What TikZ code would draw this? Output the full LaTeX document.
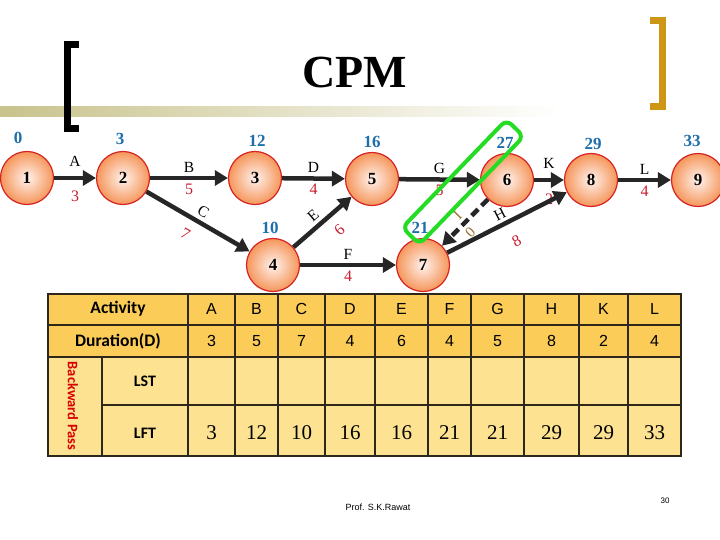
\documentclass[tikz,border=0pt]{standalone}
\usepackage{fontspec}
\setmainfont{Liberation Serif}
\newfontfamily\arialfont{Liberation Sans}
\newfontfamily\calibrifont{Carlito}
\usepackage{tikz}
\usetikzlibrary{positioning, shapes, arrows.meta}
\definecolor{NodeRed}{RGB}{215, 35, 35}
\definecolor{NodeOrange}{RGB}{245, 150, 90}
\definecolor{NodeCenter}{RGB}{255, 242, 238}
\definecolor{ArrowGray}{RGB}{38, 38, 38}
\definecolor{TimeBlue}{RGB}{30, 110, 170}
\definecolor{DurRed}{RGB}{200, 30, 45}
\definecolor{DummyBrown}{RGB}{150, 110, 40}
\definecolor{PathGreen}{RGB}{35, 220, 35}
\definecolor{BracketGold}{RGB}{205, 150, 20}
\definecolor{RuleKhaki}{RGB}{200, 195, 140}
\definecolor{HeadGold}{RGB}{251, 204, 88}
\definecolor{CellGold}{RGB}{253, 226, 145}
\definecolor{GridDark}{RGB}{45, 40, 25}

\begin{document}
\begin{tikzpicture}[
    x=1pt, y=-1pt,
    every node/.style={align=center},
    event/.style={circle, draw=NodeRed, line width=1.2pt, minimum size=53pt, inner sep=0pt,
      inner color=NodeCenter, outer color=NodeOrange, font=\bfseries\fontsize{17}{17}\selectfont},
    timelabel/.style={text=TimeBlue, inner sep=1pt, font=\bfseries\fontsize{17}{17}\selectfont},
    act/.style={draw=ArrowGray, line width=4.5pt, -{Triangle[length=13pt, width=15pt]}},
    dummy/.style={act, dash pattern=on 9pt off 5pt},
    actname/.style={font=\fontsize{15.5}{15.5}\selectfont},
    actdur/.style={text=DurRed, font=\fontsize{16}{16}\selectfont},
    dummylbl/.style={text=DummyBrown, font=\fontsize{15}{15}\selectfont},
    headcell/.style={font=\calibrifont\bfseries\fontsize{17.5}{17.5}\selectfont},
    lettercell/.style={font=\arialfont\fontsize{16}{16}\selectfont},
    lftcell/.style={font=\fontsize{21}{21}\selectfont}
  ]
    \useasboundingbox (0,0) rectangle (720,540);
    \fill[left color=RuleKhaki, right color=white] (0,107) rectangle (560,117);
    \draw[line width=7pt] (79,44.5) -- (67,44.5) -- (67,128.5) -- (79,128.5);
    \draw[draw=BracketGold, line width=7pt] (650,20.5) -- (662,20.5) -- (662,106.5) -- (650,106.5);
    \node[font=\bfseries\fontsize{46}{46}\selectfont] (title) at (355,72) {CPM};

    \node[event] (n1) at (27,178) {1};
    \node[event] (n2) at (123,178) {2};
    \node[event] (n3) at (255,178) {3};
    \node[event] (n4) at (273,265) {4};
    \node[event] (n5) at (372,179) {5};
    \node[event] (n6) at (507,180) {6};
    \node[event] (n7) at (423,265) {7};
    \node[event] (n8) at (591,180) {8};
    \node[event] (n9) at (698,180) {9};

    \node[timelabel, above=6pt of n1, xshift=-9pt] (t1) {0};
    \node[timelabel, above=5pt of n2, xshift=-3pt] (t2) {3};
    \node[timelabel, above=3pt of n3, xshift=2pt] (t3) {12};
    \node[timelabel, above=3pt of n5] (t5) {16};
    \node[timelabel, above=3pt of n6, xshift=-2pt] (t6) {27};
    \node[timelabel, above=2pt of n8, xshift=2pt] (t8) {29};
    \node[timelabel, above=5pt of n9, xshift=-6pt] (t9) {33};
    \node[timelabel, above=3pt of n4, xshift=-3pt] (t4) {10};
    \node[timelabel, above=3pt of n7, xshift=-3pt] (t7) {21};

    \draw[act] (n1) -- node[actname, above=6pt] (la) {A} node[actdur, below=7pt] (da) {3} (n2);
    \draw[act] (n2) -- node[actname, above] (lb) {B} node[actdur, below] (db) {5} (n3);
    \draw[act] (n2) -- node[actname, above, sloped] (lc) {C} node[actdur, below=6pt, sloped, pos=0.46] (dc) {7} (n4);
    \draw[act] (n3) -- node[actname, above] (ld) {D} node[actdur, below] (dd) {4} (n5);
    \draw[act] (n4) -- node[actname, above, sloped, pos=0.46] (le) {E} node[actdur, below=6pt, sloped, pos=0.6] (de) {6} (n5);
    \draw[act] (n4) -- node[actname, above] (lf) {F} node[actdur, below] (df) {4} (n7);
    \draw[act] (n5) -- node[actname, above] (lg) {G} node[actdur, below] (dg) {5} (n6);
    \draw[act] (n6) -- node[actname, above=6pt] (lk) {K} node[actdur, below=8pt] (dk) {2} (n8);
    \draw[act] (n7) -- node[actname, above, sloped, pos=0.48] (lh) {H} node[actdur, below=10pt, sloped, pos=0.5] (dh) {8} (n8);
    \draw[act] (n8) -- node[actname, above] (ll) {L} node[actdur, below] (dl) {4} (n9);
    \draw[dummy] (n6) -- node[dummylbl, above, sloped] (li) {I} node[dummylbl, below, sloped, pos=0.55] (di) {0} (n7);

    \fill[HeadGold] (48,294) rectangle (681,357);
    \fill[CellGold] (48,357) rectangle (681,456);
    \draw[GridDark, line width=1.3pt] (48,294) rectangle (681,456);
    \draw[GridDark, line width=1.3pt] (48,325) -- (681,325) (48,357) -- (681,357) (102,405) -- (681,405) (102,357) -- (102,456);
    \foreach \xl/\xr/\act/\dur/\lft in {188/235/A/3/3, 235/278/B/5/12, 278/325/C/7/10, 325/375/D/4/16, 375/428/E/6/16,
        428/471/F/4/21, 471/524/G/5/21, 524/579/H/8/29, 579/628/K/2/29, 628/681/L/4/33} {
      \draw[GridDark, line width=1.3pt] (\xl,294) -- (\xl,456);
      \node[lettercell] (act-\act) at ({(\xl+\xr)/2},309) {\act};
      \node[lettercell] (dur-\act) at ({(\xl+\xr)/2},341) {\dur};
      \node[lftcell] (lft-\act) at ({(\xl+\xr)/2},433) {\lft};
    }
    \node[headcell] (activity) at (118,309) {Activity};
    \node[headcell] (duration) at (118,341) {Duration(D)};
    \node[headcell, font=\calibrifont\bfseries\fontsize{16}{16}\selectfont] (lst) at (145,381) {LST};
    \node[headcell, font=\calibrifont\bfseries\fontsize{16}{16}\selectfont] (lft) at (145,433) {LFT};
    \node[text=red!85!black, rotate=-90, font=\calibrifont\bfseries\fontsize{14.5}{14.5}\selectfont] (bpass) at (73,406) {Backward Pass};

    \node[font=\arialfont\fontsize{9}{9}\selectfont] (author) at (378,507) {Prof. S.K.Rawat};
    \node[font=\arialfont\fontsize{8}{8}\selectfont] (page) at (665,501) {30};

    \node[draw=PathGreen, line width=4pt, rounded corners=7pt, rotate=46, minimum width=150pt, minimum height=24pt] (crit) at (463,182) {};
  \end{tikzpicture}
\end{document}
